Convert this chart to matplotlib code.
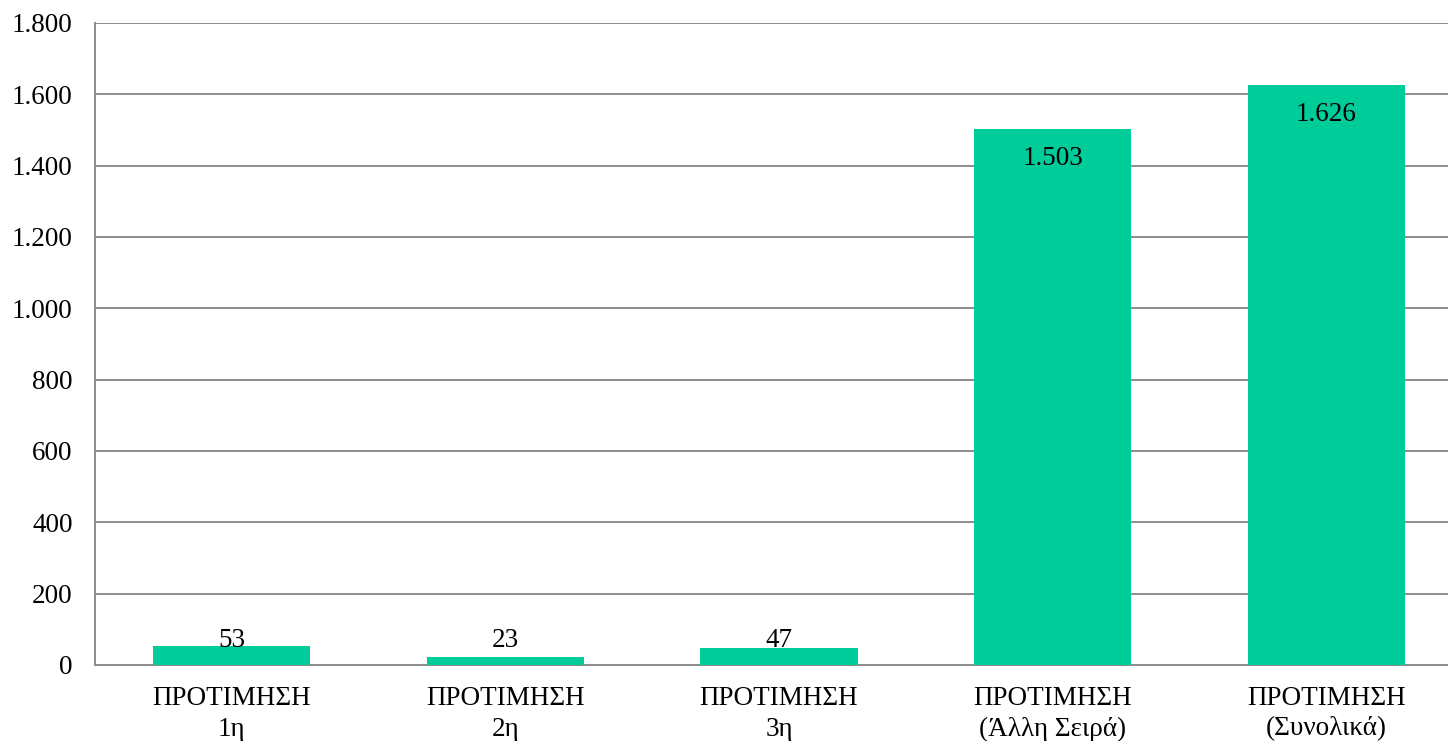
import matplotlib

matplotlib.use("Agg")
import matplotlib.pyplot as plt
import numpy as np

categories = [
    "ΠΡΟΤΙΜΗΣΗ\n1η",
    "ΠΡΟΤΙΜΗΣΗ\n2η",
    "ΠΡΟΤΙΜΗΣΗ\n3η",
    "ΠΡΟΤΙΜΗΣΗ\n(Άλλη Σειρά)",
    "ΠΡΟΤΙΜΗΣΗ\n(Συνολικά)",
]
values = [53, 23, 47, 1503, 1626]
yticks = [0, 200, 400, 600, 800, 1000, 1200, 1400, 1600, 1800]

BAR = "#00CC99"
GRID = "#8C8C8C"
FS = 19.5

plt.rcParams["font.family"] = ["Liberation Serif", "DejaVu Serif"]


def fmt(v):
    # greek thousands separator
    return f"{v:,}".replace(",", ".")


fig = plt.figure(figsize=(14.48, 7.41), dpi=100)
ax = fig.add_axes([95 / 1448, 1 - 665 / 741, (1463 - 95) / 1448, (665 - 23) / 741])

x = np.arange(len(categories))
ax.bar(x, values, width=0.575, color=BAR, zorder=3)
ax.set_xlim(-0.5, len(categories) - 0.5)
ax.set_ylim(0, 1800)
ax.set_yticks(yticks)
ax.set_yticklabels([fmt(t) for t in yticks], fontsize=FS)
ax.set_xticks(x)
ax.set_xticklabels(categories, fontsize=FS, linespacing=1.3)
ax.tick_params(axis="y", length=0, pad=16)
ax.tick_params(axis="x", length=0, pad=15)

ax.grid(True, axis="y", color=GRID, linewidth=1.4, zorder=0)
for s in ["top", "right"]:
    ax.spines[s].set_visible(False)
for s in ["left", "bottom"]:
    ax.spines[s].set_color(GRID)
    ax.spines[s].set_linewidth(1.4)

# inside-end labels; short bars get the label pushed up off the axis
for xi, v in zip(x, values):
    if v > 300:
        ax.annotate(fmt(v), (xi, v), xytext=(0, -21), textcoords="offset points",
                    ha="center", va="center", fontsize=FS, zorder=4)
    else:
        ax.annotate(fmt(v), (xi, 0), xytext=(0, 13), textcoords="offset points",
                    ha="center", va="baseline", fontsize=FS, zorder=4)

fig.savefig("out.png", dpi=100)
